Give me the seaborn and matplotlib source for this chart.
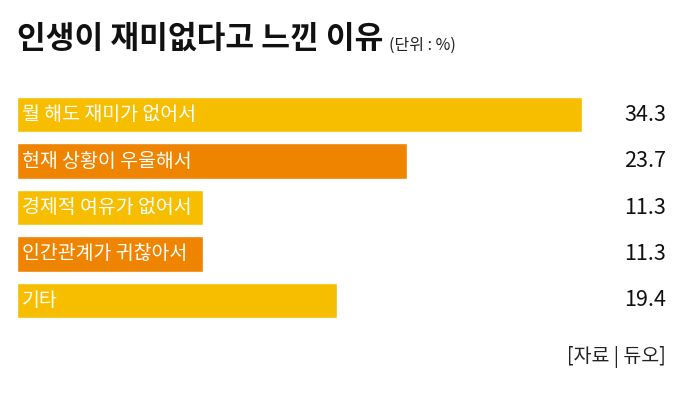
import matplotlib
matplotlib.use("Agg")
import matplotlib.pyplot as plt
import seaborn as sns

# Data
reasons = ["뭘 해도 재미가 없어서", "현재 상황이 우울해서", "경제적 여유가 없어서",
           "인간관계가 귀찮아서", "기타"]
shares = [34.3, 23.7, 11.3, 11.3, 19.4]
value_labels = ["34.3", "23.7", "11.3", "11.3", "19.4"]
bar_colors = ["#F7BE00", "#EE8400", "#F7BE00", "#EE8400", "#F7BE00"]

title = "인생이 재미없다고 느낀 이유"
unit = "(단위 : %)"
source = "[자료 | 듀오]"

sns.set_theme(style="white")
plt.rcParams["font.family"] = ["Noto Sans CJK KR", "DejaVu Sans"]

W, H = 679, 401
fig = plt.figure(figsize=(W / 100, H / 100), dpi=100)
fig.patch.set_facecolor("white")

# axes: x 0 -> 34.3 spans px 17..582
ax = fig.add_axes([17 / W, (H - 323.5) / H, 565 / W, 232 / H])
sns.barplot(x=shares, y=reasons, hue=reasons, palette=bar_colors,
            legend=False, width=0.76, saturation=1, orient="h", ax=ax)
ax.set_xlim(0, max(shares))
ax.set_ylim(4.5, -0.5)
ax.axis("off")

# labels inside bars and values on the right
for i, (name, val) in enumerate(zip(reasons, value_labels)):
    ax.text(0.3, i, name, color="white", fontsize=14, fontweight="medium",
            va="center", ha="left")
    ax.text((666 - 17) / 565, i, val, transform=ax.get_yaxis_transform(),
            color="#111111", fontsize=15.5, fontweight="medium",
            va="center", ha="right")

# title
t = fig.text(17 / W, (H - 48) / H, title, fontsize=22.5, fontweight="bold",
             color="#111111", ha="left", va="baseline")
fig.canvas.draw()
ax.annotate(unit, xy=(1, 0), xycoords=t, xytext=(4, 1),
            textcoords="offset points", fontsize=11.5, color="#222222",
            ha="left", va="bottom", annotation_clip=False)

fig.text(666 / W, (H - 357) / H, source, fontsize=14, color="#222222",
         ha="right", va="center")

fig.savefig("out.png", dpi=100, facecolor="white")
